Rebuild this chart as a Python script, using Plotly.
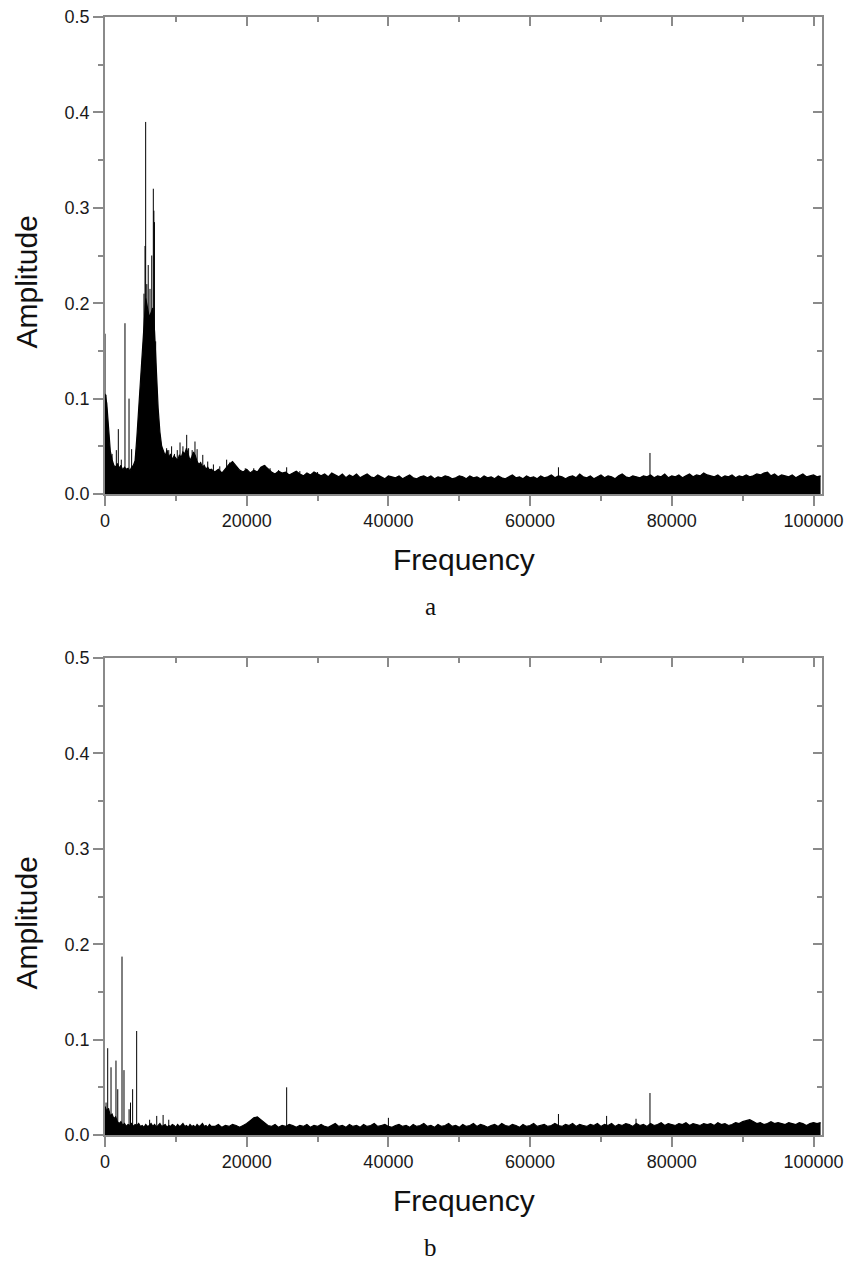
import plotly.graph_objects as go

W, H = 848, 1262

# ---------------- data: panel a ----------------
a_low_freq = list(range(0, 15001, 250))
a_low_amp = [
    0.105, 0.095, 0.070, 0.045, 0.036, 0.030, 0.028, 0.032, 0.027, 0.030,
    0.025, 0.028, 0.026, 0.027, 0.024, 0.028, 0.030, 0.035, 0.060, 0.090,
    0.120, 0.150, 0.180, 0.205, 0.195, 0.185, 0.190, 0.195, 0.170, 0.125,
    0.090, 0.065, 0.050, 0.045, 0.040, 0.046, 0.038, 0.042, 0.036, 0.040,
    0.037, 0.035, 0.041, 0.038, 0.044, 0.042, 0.048, 0.040, 0.035, 0.039,
    0.044, 0.040, 0.034, 0.031, 0.033, 0.028, 0.030, 0.026, 0.028, 0.025,
    0.026]
a_high_freq = list(range(15500, 101001, 500))
a_high_amp = [
    0.023, 0.026, 0.022, 0.027, 0.031, 0.034, 0.029, 0.025, 0.023, 0.026,
    0.022, 0.025, 0.023, 0.028, 0.030, 0.026, 0.023, 0.021, 0.024, 0.022,
    0.023, 0.020, 0.022, 0.024, 0.021, 0.019, 0.022, 0.020, 0.023, 0.021,
    0.019, 0.021, 0.018, 0.022, 0.020, 0.018, 0.021, 0.017, 0.020, 0.018,
    0.021, 0.017, 0.019, 0.021, 0.018, 0.017, 0.020, 0.018, 0.016, 0.019,
    0.018, 0.017, 0.019, 0.016, 0.018, 0.020, 0.017, 0.016, 0.018, 0.019,
    0.017, 0.019, 0.016, 0.018, 0.017, 0.019, 0.018, 0.016, 0.017, 0.019,
    0.018, 0.016, 0.019, 0.017, 0.018, 0.016, 0.019, 0.017, 0.018, 0.016,
    0.019, 0.017, 0.016, 0.018, 0.020, 0.017, 0.018, 0.016, 0.019, 0.017,
    0.018, 0.016, 0.019, 0.017, 0.018, 0.020, 0.017, 0.019, 0.018, 0.016,
    0.018, 0.019, 0.017, 0.021, 0.018, 0.017, 0.019, 0.016, 0.018, 0.020,
    0.017, 0.019, 0.018, 0.016, 0.019, 0.021, 0.018, 0.017, 0.019, 0.018,
    0.017, 0.019, 0.018, 0.020, 0.017, 0.019, 0.018, 0.021, 0.017, 0.019,
    0.018, 0.020, 0.017, 0.019, 0.021, 0.018, 0.020, 0.019, 0.022, 0.020,
    0.019, 0.018, 0.020, 0.017, 0.019, 0.018, 0.020, 0.017, 0.019, 0.018,
    0.020, 0.018, 0.019, 0.021, 0.020, 0.022, 0.023, 0.019, 0.021, 0.018,
    0.020, 0.019, 0.018, 0.020, 0.017, 0.019, 0.021, 0.018, 0.019, 0.020,
    0.018, 0.019]
a_spike_freq = [0, 150, 500, 1000, 1600, 1880, 2300, 2820, 3390, 3760,
                4300, 5500, 5650, 5740, 5900, 6100, 6350, 6600, 6820, 6900,
                6980, 7150, 8200, 8700, 9000, 9400, 9800, 10200, 10590, 11000,
                11530, 11800, 12300, 12700, 13000, 13800, 14500, 15300, 16200, 17170,
                17600, 18500, 19800, 21000, 22580, 23300, 24500, 25640, 27500, 30000,
                64000, 76920]
a_spike_amp = [0.168, 0.104, 0.055, 0.042, 0.046, 0.068, 0.036, 0.179, 0.100, 0.047,
               0.040, 0.210, 0.260, 0.390, 0.220, 0.240, 0.215, 0.250, 0.320, 0.297,
               0.285, 0.160, 0.045, 0.048, 0.046, 0.050, 0.042, 0.046, 0.054, 0.050,
               0.062, 0.048, 0.046, 0.055, 0.047, 0.041, 0.034, 0.031, 0.029, 0.036,
               0.033, 0.029, 0.027, 0.027, 0.030, 0.027, 0.025, 0.028, 0.024, 0.023,
               0.028, 0.043]

# ---------------- data: panel b ----------------
b_low_freq = list(range(0, 15001, 250))
b_low_amp = [
    0.030, 0.025, 0.028, 0.020, 0.022, 0.017, 0.019, 0.014, 0.012, 0.014,
    0.010, 0.012, 0.009, 0.011, 0.010, 0.012, 0.009, 0.011, 0.010, 0.012,
    0.009, 0.010, 0.008, 0.011, 0.009, 0.010, 0.012, 0.009, 0.011, 0.008,
    0.010, 0.012, 0.009, 0.010, 0.011, 0.008, 0.010, 0.009, 0.011, 0.010,
    0.008, 0.011, 0.009, 0.010, 0.012, 0.009, 0.010, 0.008, 0.011, 0.009,
    0.010, 0.008, 0.011, 0.009, 0.010, 0.012, 0.009, 0.010, 0.008, 0.011,
    0.009]
b_high_freq = list(range(15500, 101001, 500))
b_high_amp = [
    0.009, 0.011, 0.008, 0.010, 0.009, 0.011, 0.010, 0.008, 0.010, 0.012,
    0.015, 0.018, 0.019, 0.016, 0.012, 0.010, 0.009, 0.011, 0.008, 0.010,
    0.009, 0.011, 0.010, 0.008, 0.010, 0.009, 0.011, 0.008, 0.010, 0.009,
    0.011, 0.009, 0.008, 0.010, 0.012, 0.009, 0.010, 0.008, 0.011, 0.009,
    0.010, 0.008, 0.011, 0.009, 0.010, 0.012, 0.009, 0.010, 0.011, 0.009,
    0.008, 0.010, 0.011, 0.009, 0.010, 0.008, 0.011, 0.009, 0.010, 0.012,
    0.009, 0.010, 0.008, 0.011, 0.009, 0.010, 0.012, 0.009, 0.010, 0.008,
    0.011, 0.009, 0.010, 0.012, 0.009, 0.011, 0.010, 0.008, 0.010, 0.011,
    0.009, 0.012, 0.010, 0.009, 0.011, 0.010, 0.008, 0.011, 0.009, 0.010,
    0.012, 0.009, 0.010, 0.011, 0.009, 0.010, 0.012, 0.010, 0.009, 0.011,
    0.010, 0.012, 0.009, 0.011, 0.010, 0.009, 0.011, 0.010, 0.012, 0.009,
    0.011, 0.010, 0.012, 0.009, 0.011, 0.010, 0.012, 0.011, 0.009, 0.012,
    0.010, 0.011, 0.009, 0.012, 0.010, 0.011, 0.013, 0.010, 0.012, 0.011,
    0.010, 0.012, 0.011, 0.013, 0.010, 0.012, 0.011, 0.010, 0.012, 0.011,
    0.012, 0.010, 0.013, 0.011, 0.012, 0.010, 0.011, 0.013, 0.012, 0.014,
    0.015, 0.016, 0.014, 0.012, 0.013, 0.011, 0.012, 0.014, 0.012, 0.013,
    0.012, 0.011, 0.013, 0.012, 0.011, 0.013, 0.012, 0.010, 0.012, 0.013,
    0.012, 0.013]
b_spike_freq = [150, 380, 850, 1550, 1800, 2400, 2680, 3400, 3600, 3900,
                4470, 6300, 7300, 8200, 9000, 25640, 40000, 64000, 70800, 74950,
                76920]
b_spike_amp = [0.034, 0.091, 0.071, 0.078, 0.048, 0.187, 0.068, 0.027, 0.034, 0.048,
               0.109, 0.016, 0.020, 0.021, 0.016, 0.050, 0.018, 0.022, 0.020, 0.017,
               0.044]

x_tick_vals = [0, 20000, 40000, 60000, 80000, 100000]
x_tick_text = ["0", "20000", "40000", "60000", "80000", "100000"]
y_tick_vals = [0.0, 0.1, 0.2, 0.3, 0.4, 0.5]
y_tick_text = ["0.0", "0.1", "0.2", "0.3", "0.4", "0.5"]
x_range = [0, 101200]
y_range = [0, 0.5]

panel_labels = ["a", "b"]

# ---------------- layout geometry (pixels) ----------------
PLOT_L, PLOT_R = 105, 822
PANEL_TOPS = [17, 658]
PANEL_BOTS = [494, 1135]

def px_x(p):
    return p / W

def px_y(p):
    return 1 - p / H

AXIS_COLOR = "#8a8a8a"
TICKFONT = dict(family="Liberation Sans, Arial", size=18, color="#1a1a1a")
TITLEFONT = dict(family="Liberation Sans, Arial", size=30, color="#111111")

fig = go.Figure()

panels = [
    (a_low_freq + a_high_freq, a_low_amp + a_high_amp, a_spike_freq, a_spike_amp),
    (b_low_freq + b_high_freq, b_low_amp + b_high_amp, b_spike_freq, b_spike_amp),
]

for i, (ef, ea, sf, sa) in enumerate(panels):
    xb = "x" if i == 0 else "x2"
    yb = "y" if i == 0 else "y2"
    fig.add_trace(go.Scatter(x=ef, y=ea, mode="lines", xaxis=xb, yaxis=yb,
                             line=dict(color="black", width=1.2),
                             fill="tozeroy", fillcolor="black",
                             hoverinfo="skip", showlegend=False))
    sx, sy = [], []
    for f, a in zip(sf, sa):
        sx += [f, f, None]
        sy += [0, a, None]
    fig.add_trace(go.Scatter(x=sx, y=sy, mode="lines", xaxis=xb, yaxis=yb,
                             line=dict(color="black", width=1),
                             hoverinfo="skip", showlegend=False))
    xo = "x3" if i == 0 else "x4"
    yo = "y3" if i == 0 else "y4"
    fig.add_trace(go.Scatter(x=[0], y=[0], mode="markers", xaxis=xo, yaxis=yo,
                             marker=dict(opacity=0), hoverinfo="skip", showlegend=False))

xdom = [px_x(PLOT_L), px_x(PLOT_R)]

def base_x(anchor, dom):
    return dict(domain=dom, anchor=anchor, range=x_range, showgrid=False, zeroline=False,
                automargin=False,
                showline=True, linecolor=AXIS_COLOR, linewidth=1.5, mirror=False,
                ticks="outside", ticklen=10, tickwidth=1.5, tickcolor=AXIS_COLOR,
                tickvals=x_tick_vals, ticktext=x_tick_text, tickfont=TICKFONT,
                minor=dict(ticks="outside", ticklen=5, tickwidth=1.5, tickcolor=AXIS_COLOR,
                           dtick=10000, tick0=0))

def base_y(anchor, dom):
    return dict(domain=dom, anchor=anchor, range=y_range, showgrid=False, zeroline=False,
                automargin=False,
                showline=True, linecolor=AXIS_COLOR, linewidth=1.5,
                ticks="outside", ticklen=10, tickwidth=1.5, tickcolor=AXIS_COLOR,
                tickvals=y_tick_vals, ticktext=y_tick_text, tickfont=TICKFONT,
                minor=dict(ticks="outside", ticklen=5, tickwidth=1.5, tickcolor=AXIS_COLOR,
                           dtick=0.05, tick0=0))

def over_x(over, anchor):
    return dict(overlaying=over, anchor=anchor, side="top", range=x_range, showgrid=False,
                automargin=False,
                zeroline=False, showline=True, linecolor=AXIS_COLOR, linewidth=1.5,
                ticks="inside", ticklen=9, tickwidth=1.5, tickcolor=AXIS_COLOR,
                tickvals=x_tick_vals, showticklabels=False,
                minor=dict(ticks="inside", ticklen=5, tickwidth=1.5, tickcolor=AXIS_COLOR,
                           dtick=10000, tick0=0))

def over_y(over, anchor):
    return dict(overlaying=over, anchor=anchor, side="right", range=y_range, showgrid=False,
                automargin=False,
                zeroline=False, showline=True, linecolor=AXIS_COLOR, linewidth=1.5,
                ticks="inside", ticklen=9, tickwidth=1.5, tickcolor=AXIS_COLOR,
                tickvals=y_tick_vals, showticklabels=False,
                minor=dict(ticks="inside", ticklen=5, tickwidth=1.5, tickcolor=AXIS_COLOR,
                           dtick=0.05, tick0=0))

ydom_a = [px_y(PANEL_BOTS[0]), px_y(PANEL_TOPS[0])]
ydom_b = [px_y(PANEL_BOTS[1]), px_y(PANEL_TOPS[1])]

annotations = []
for i in range(2):
    top, bot = PANEL_TOPS[i], PANEL_BOTS[i]
    annotations.append(dict(text="Frequency", x=px_x((PLOT_L + PLOT_R) / 2), y=px_y(bot + 65),
                            xref="paper", yref="paper", xanchor="center", yanchor="middle",
                            showarrow=False, font=TITLEFONT))
    annotations.append(dict(text="Amplitude", x=px_x(26), y=px_y((top + bot) / 2 + 27),
                            xref="paper", yref="paper", xanchor="center", yanchor="middle",
                            textangle=-90, showarrow=False, font=TITLEFONT))
    annotations.append(dict(text=panel_labels[i], x=px_x(430), y=px_y(bot + 112),
                            xref="paper", yref="paper", xanchor="center", yanchor="middle",
                            showarrow=False,
                            font=dict(family="Liberation Serif, Times New Roman", size=25,
                                      color="#111111")))

fig.update_layout(
    width=W, height=H, margin=dict(l=0, r=0, t=0, b=0, autoexpand=False),
    paper_bgcolor="white", plot_bgcolor="white", showlegend=False,
    xaxis=base_x("y", xdom), yaxis=base_y("x", ydom_a),
    xaxis2=base_x("y2", xdom), yaxis2=base_y("x2", ydom_b),
    xaxis3=over_x("x", "y3"), yaxis3=over_y("y", "x3"),
    xaxis4=over_x("x2", "y4"), yaxis4=over_y("y2", "x4"),
    annotations=annotations,
)

fig.write_html("out.html")
